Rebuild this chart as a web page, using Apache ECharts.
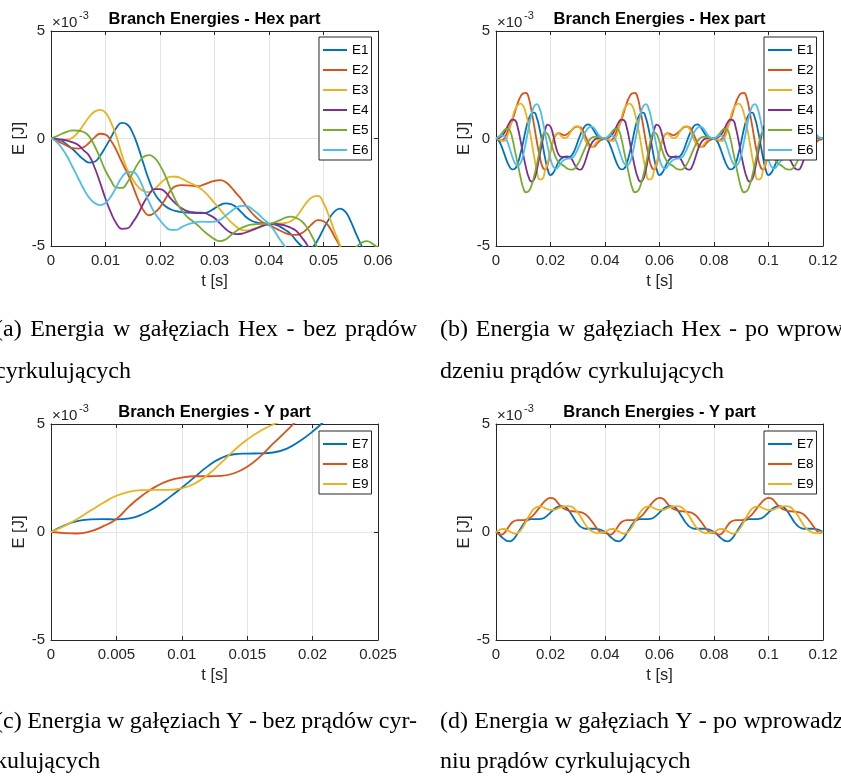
<!DOCTYPE html>
<html>
<head>
<meta charset="utf-8">
<script src="https://cdn.jsdelivr.net/npm/echarts@6/dist/echarts.min.js"></script>
<style>
  html, body { margin: 0; padding: 0; background: #fff; }
  #chart { width: 841px; height: 778px; }
</style>
</head>
<body>
<div id="chart"></div>
<script>
// energies in units of 1e-3 J, sampled every 1 ms
var hexNames = ['E1', 'E2', 'E3', 'E4', 'E5', 'E6'];
var yNames = ['E7', 'E8', 'E9'];
var colors = ['#0072BD', '#D95319', '#EDB120', '#7E2F8E', '#77AC30', '#4DBEEE'];

// (a) hex branches, no circulating currents, 0..60 ms
var E1a = [0,-0.03,-0.12,-0.3,-0.5,-0.75,-0.98,-1.12,-1.08,-0.8,-0.4,0.05,0.5,0.73,0.65,0.25,-0.4,-1.2,-1.95,-2.55,-2.9,-3.15,-3.3,-3.38,-3.42,-3.45,-3.46,-3.47,-3.47,-3.4,-3.25,-3.1,-3.02,-3.05,-3.2,-3.45,-3.7,-3.85,-3.92,-3.95,-3.97,-4.0,-4.1,-4.25,-4.45,-4.75,-5.0,-5.15,-5.05,-4.7,-4.2,-3.75,-3.4,-3.26,-3.4,-3.85,-4.45,-5.0,-5.6,-6.2,-6.8];
var E2a = [0,-0.1,-0.22,-0.35,-0.45,-0.47,-0.4,-0.2,0.05,0.22,0.18,-0.1,-0.55,-1.1,-1.6,-2.2,-2.85,-3.35,-3.57,-3.45,-3.2,-2.8,-2.4,-2.2,-2.17,-2.18,-2.2,-2.22,-2.15,-2.05,-1.97,-1.94,-2.02,-2.25,-2.55,-2.85,-3.2,-3.5,-3.75,-3.92,-4.03,-4.15,-4.28,-4.4,-4.47,-4.48,-4.4,-4.2,-3.95,-3.8,-3.85,-4.1,-4.55,-5.0,-5.5,-6.0,-6.5,-7.0,-7.5,-8.0,-8.5];
var E3a = [0,-0.02,-0.05,-0.05,0.05,0.3,0.65,1.0,1.25,1.33,1.2,0.75,0.1,-0.75,-1.45,-1.9,-2.25,-2.45,-2.5,-2.35,-2.1,-1.88,-1.77,-1.78,-1.87,-2.0,-2.12,-2.25,-2.45,-2.7,-3.0,-3.3,-3.6,-3.88,-4.1,-4.25,-4.28,-4.22,-4.12,-4.03,-3.98,-3.96,-3.95,-3.93,-3.85,-3.65,-3.3,-2.95,-2.72,-2.67,-3.0,-3.6,-4.3,-4.95,-5.6,-6.2,-6.8,-7.4,-8.0,-8.6,-9.2];
var E4a = [0,-0.02,-0.05,-0.1,-0.18,-0.3,-0.55,-0.8,-1.35,-2.05,-2.8,-3.45,-3.95,-4.2,-4.18,-3.9,-3.5,-3.0,-2.6,-2.35,-2.35,-2.5,-2.8,-3.05,-3.25,-3.38,-3.43,-3.45,-3.46,-3.55,-3.7,-3.95,-4.2,-4.38,-4.45,-4.43,-4.35,-4.25,-4.15,-4.05,-3.98,-3.97,-4.0,-4.05,-4.15,-4.3,-4.6,-4.95,-5.5,-6.0,-6.5,-7,-7.5,-8,-8.5,-9,-9.5,-10,-10.5,-11,-11.5];
var E5a = [0,0.1,0.22,0.32,0.38,0.36,0.3,0.1,-0.35,-0.9,-1.5,-1.95,-2.28,-2.3,-2.05,-1.6,-1.15,-0.85,-0.77,-0.9,-1.25,-1.75,-2.4,-2.95,-3.35,-3.65,-3.85,-4.05,-4.3,-4.5,-4.68,-4.77,-4.7,-4.5,-4.3,-4.15,-4.05,-4.0,-3.98,-3.97,-3.96,-3.9,-3.8,-3.68,-3.63,-3.7,-3.85,-4.15,-4.6,-5.15,-5.7,-6.1,-6.3,-6.1,-5.8,-5.4,-5.05,-4.85,-4.77,-4.9,-5.1];
var E6a = [0,-0.15,-0.45,-0.85,-1.35,-1.85,-2.35,-2.75,-3.0,-3.1,-3.0,-2.7,-2.25,-1.8,-1.57,-1.55,-1.8,-2.35,-2.95,-3.45,-3.8,-4.1,-4.25,-4.25,-4.12,-4.0,-3.93,-3.88,-3.87,-3.88,-3.87,-3.78,-3.6,-3.4,-3.22,-3.13,-3.15,-3.3,-3.5,-3.75,-3.98,-4.3,-4.7,-5.05,-5.5,-6,-6.5,-7,-7.5,-8,-8.5,-9,-9.5,-10,-10.5,-11,-11.5,-12,-12.5,-13,-13.5];

// (b) hex branches with circulating currents, 0..120 ms
var E1b = [0,-0.1,-0.35,-0.7,-1.05,-1.32,-1.44,-1.4,-1.15,-0.7,-0.15,0.45,0.9,1.15,1.2,0.95,0.45,-0.2,-0.9,-1.45,-1.7,-1.6,-1.35,-1.08,-0.93,-0.87,-0.86,-0.85,-0.75,-0.5,-0.15,0.18,0.45,0.62,0.66,0.55,0.35,0.15,0,-0.05,0,
  -0.1,-0.35,-0.7,-1.05,-1.32,-1.44,-1.4,-1.15,-0.7,-0.15,0.45,0.9,1.15,1.2,0.95,0.45,-0.2,-0.9,-1.45,-1.7,-1.6,-1.35,-1.08,-0.93,-0.87,-0.86,-0.85,-0.75,-0.5,-0.15,0.18,0.45,0.62,0.66,0.55,0.35,0.15,0,-0.05,0,
  -0.1,-0.35,-0.7,-1.05,-1.32,-1.44,-1.4,-1.15,-0.7,-0.15,0.45,0.9,1.15,1.2,0.95,0.45,-0.2,-0.9,-1.45,-1.7,-1.6,-1.35,-1.08,-0.93,-0.87,-0.86,-0.85,-0.75,-0.5,-0.15,0.18,0.45,0.62,0.66,0.55,0.35,0.15,0,-0.05,0];
var E2b = [0,-0.05,-0.1,0,0.25,0.55,0.85,1.25,1.65,1.95,2.1,2.12,1.9,1.3,0.6,-0.15,-0.8,-1.3,-1.45,-1.2,-0.6,-0.1,0.18,0.25,0.2,0.15,0.2,0.3,0.42,0.52,0.55,0.52,0.35,0.05,-0.22,-0.38,-0.38,-0.25,-0.12,-0.03,0,
  -0.05,-0.1,0,0.25,0.55,0.85,1.25,1.65,1.95,2.1,2.12,1.9,1.3,0.6,-0.15,-0.8,-1.3,-1.45,-1.2,-0.6,-0.1,0.18,0.25,0.2,0.15,0.2,0.3,0.42,0.52,0.55,0.52,0.35,0.05,-0.22,-0.38,-0.38,-0.25,-0.12,-0.03,0,
  -0.05,-0.1,0,0.25,0.55,0.85,1.25,1.65,1.95,2.1,2.12,1.9,1.3,0.6,-0.15,-0.8,-1.3,-1.45,-1.2,-0.6,-0.1,0.18,0.25,0.2,0.15,0.2,0.3,0.42,0.52,0.55,0.52,0.35,0.05,-0.22,-0.38,-0.38,-0.25,-0.12,-0.03,0];
var E3b = [0,-0.03,-0.1,-0.12,0.05,0.45,0.95,1.35,1.55,1.62,1.52,1.15,0.6,-0.1,-0.85,-1.5,-1.9,-1.88,-1.5,-1.1,-0.55,-0.1,0.18,0.22,0.1,0.02,0.05,0.22,0.42,0.55,0.57,0.45,0.15,-0.15,-0.35,-0.4,-0.32,-0.15,-0.02,0.02,0,
  -0.03,-0.1,-0.12,0.05,0.45,0.95,1.35,1.55,1.62,1.52,1.15,0.6,-0.1,-0.85,-1.5,-1.9,-1.88,-1.5,-1.1,-0.55,-0.1,0.18,0.22,0.1,0.02,0.05,0.22,0.42,0.55,0.57,0.45,0.15,-0.15,-0.35,-0.4,-0.32,-0.15,-0.02,0.02,0,
  -0.03,-0.1,-0.12,0.05,0.45,0.95,1.35,1.55,1.62,1.52,1.15,0.6,-0.1,-0.85,-1.5,-1.9,-1.88,-1.5,-1.1,-0.55,-0.1,0.18,0.22,0.1,0.02,0.05,0.22,0.42,0.55,0.57,0.45,0.15,-0.15,-0.35,-0.4,-0.32,-0.15,-0.02,0.02,0];
var E4b = [0,0.03,0.1,0.25,0.5,0.75,0.88,0.85,0.5,-0.1,-0.75,-1.35,-1.8,-2.0,-1.9,-1.45,-0.8,-0.15,0.4,0.65,0.55,0.15,-0.4,-0.75,-0.85,-0.85,-0.83,-0.85,-1.0,-1.25,-1.42,-1.45,-1.3,-0.95,-0.55,-0.25,-0.08,0,0.03,0.02,0,
  0.03,0.1,0.25,0.5,0.75,0.88,0.85,0.5,-0.1,-0.75,-1.35,-1.8,-2.0,-1.9,-1.45,-0.8,-0.15,0.4,0.65,0.55,0.15,-0.4,-0.75,-0.85,-0.85,-0.83,-0.85,-1.0,-1.25,-1.42,-1.45,-1.3,-0.95,-0.55,-0.25,-0.08,0,0.03,0.02,0,
  0.03,0.1,0.25,0.5,0.75,0.88,0.85,0.5,-0.1,-0.75,-1.35,-1.8,-2.0,-1.9,-1.45,-0.8,-0.15,0.4,0.65,0.55,0.15,-0.4,-0.75,-0.85,-0.85,-0.83,-0.85,-1.0,-1.25,-1.42,-1.45,-1.3,-0.95,-0.55,-0.25,-0.08,0,0.03,0.02,0];
var E5b = [0,0.08,0.22,0.38,0.46,0.4,0,-0.6,-1.2,-1.8,-2.3,-2.5,-2.45,-2.2,-1.75,-1.2,-0.55,0.05,0.3,0.2,-0.15,-0.55,-0.9,-1.1,-1.2,-1.28,-1.38,-1.44,-1.45,-1.38,-1.2,-0.95,-0.65,-0.35,-0.12,0.02,0.08,0.08,0.05,0.02,0,
  0.08,0.22,0.38,0.46,0.4,0,-0.6,-1.2,-1.8,-2.3,-2.5,-2.45,-2.2,-1.75,-1.2,-0.55,0.05,0.3,0.2,-0.15,-0.55,-0.9,-1.1,-1.2,-1.28,-1.38,-1.44,-1.45,-1.38,-1.2,-0.95,-0.65,-0.35,-0.12,0.02,0.08,0.08,0.05,0.02,0,
  0.08,0.22,0.38,0.46,0.4,0,-0.6,-1.2,-1.8,-2.3,-2.5,-2.45,-2.2,-1.75,-1.2,-0.55,0.05,0.3,0.2,-0.15,-0.55,-0.9,-1.1,-1.2,-1.28,-1.38,-1.44,-1.45,-1.38,-1.2,-0.95,-0.65,-0.35,-0.12,0.02,0.08,0.08,0.05,0.02,0];
var E6b = [0,0.08,0.15,0.12,-0.1,-0.45,-0.85,-1.15,-1.27,-1.15,-0.75,-0.15,0.5,1.1,1.5,1.6,1.4,0.9,0.25,-0.4,-0.95,-1.3,-1.4,-1.3,-1.12,-1.0,-0.95,-0.93,-0.9,-0.75,-0.5,-0.2,0.1,0.35,0.5,0.55,0.48,0.3,0.12,0.03,0,
  0.08,0.15,0.12,-0.1,-0.45,-0.85,-1.15,-1.27,-1.15,-0.75,-0.15,0.5,1.1,1.5,1.6,1.4,0.9,0.25,-0.4,-0.95,-1.3,-1.4,-1.3,-1.12,-1.0,-0.95,-0.93,-0.9,-0.75,-0.5,-0.2,0.1,0.35,0.5,0.55,0.48,0.3,0.12,0.03,0,
  0.08,0.15,0.12,-0.1,-0.45,-0.85,-1.15,-1.27,-1.15,-0.75,-0.15,0.5,1.1,1.5,1.6,1.4,0.9,0.25,-0.4,-0.95,-1.3,-1.4,-1.3,-1.12,-1.0,-0.95,-0.93,-0.9,-0.75,-0.5,-0.2,0.1,0.35,0.5,0.55,0.48,0.3,0.12,0.03,0];

// (c) Y branches, no circulating currents, 0..25 ms
var E7c = [0,0.3,0.5,0.58,0.6,0.58,0.63,0.82,1.15,1.58,2.05,2.55,3.05,3.42,3.6,3.63,3.64,3.68,3.85,4.2,4.65,5.2,5.8,6.4,7.0,7.5];
var E8c = [0,-0.05,-0.07,0.03,0.27,0.6,1.2,1.7,2.1,2.38,2.52,2.58,2.58,2.6,2.72,3.02,3.5,4.1,4.68,5.3,5.9,6.4,6.8,7.2,7.6,8.0];
var E9c = [0,0.27,0.6,0.98,1.35,1.68,1.87,1.94,1.95,1.95,2.02,2.25,2.65,3.2,3.78,4.28,4.68,4.98,5.2,5.4,5.6,5.8,6.0,6.2,6.4,6.6];

// (d) Y branches with circulating currents, 0..120 ms
var E7d = [0,-0.1,-0.22,-0.33,-0.41,-0.43,-0.38,-0.25,-0.05,0.15,0.35,0.5,0.57,0.6,0.6,0.6,0.6,0.62,0.68,0.78,0.9,1.02,1.12,1.18,1.2,1.18,1.1,0.95,0.75,0.55,0.38,0.25,0.18,0.15,0.15,0.15,0.15,0.14,0.12,0.07,0,
  -0.1,-0.22,-0.33,-0.41,-0.43,-0.38,-0.25,-0.05,0.15,0.35,0.5,0.57,0.6,0.6,0.6,0.6,0.62,0.68,0.78,0.9,1.02,1.12,1.18,1.2,1.18,1.1,0.95,0.75,0.55,0.38,0.25,0.18,0.15,0.15,0.15,0.15,0.14,0.12,0.07,0,
  -0.1,-0.22,-0.33,-0.41,-0.43,-0.38,-0.25,-0.05,0.15,0.35,0.5,0.57,0.6,0.6,0.6,0.6,0.62,0.68,0.78,0.9,1.02,1.12,1.18,1.2,1.18,1.1,0.95,0.75,0.55,0.38,0.25,0.18,0.15,0.15,0.15,0.15,0.14,0.12,0.07,0];
var E8d = [0,-0.08,-0.12,-0.05,0.12,0.3,0.45,0.52,0.55,0.55,0.55,0.57,0.62,0.7,0.82,0.98,1.14,1.3,1.44,1.54,1.58,1.56,1.45,1.3,1.17,1.08,1.02,0.98,0.96,0.95,0.94,0.92,0.88,0.8,0.68,0.52,0.35,0.17,0.03,-0.04,-0.04,
  -0.08,-0.12,-0.05,0.12,0.3,0.45,0.52,0.55,0.55,0.55,0.57,0.62,0.7,0.82,0.98,1.14,1.3,1.44,1.54,1.58,1.56,1.45,1.3,1.17,1.08,1.02,0.98,0.96,0.95,0.94,0.92,0.88,0.8,0.68,0.52,0.35,0.17,0.03,-0.04,-0.04,
  -0.08,-0.12,-0.05,0.12,0.3,0.45,0.52,0.55,0.55,0.55,0.57,0.62,0.7,0.82,0.98,1.14,1.3,1.44,1.54,1.58,1.56,1.45,1.3,1.17,1.08,1.02,0.98,0.96,0.95,0.94,0.92,0.88,0.8,0.68,0.52,0.35,0.17,0.03,-0.04,0];
var E9d = [0,0.07,0.13,0.14,0.1,0.03,-0.04,-0.08,-0.05,0.07,0.25,0.48,0.72,0.93,1.08,1.16,1.19,1.17,1.1,1.05,1.02,1.02,1.05,1.1,1.15,1.18,1.2,1.19,1.15,1.05,0.9,0.72,0.5,0.3,0.15,0.05,-0.02,-0.05,-0.04,-0.02,0,
  0.07,0.13,0.14,0.1,0.03,-0.04,-0.08,-0.05,0.07,0.25,0.48,0.72,0.93,1.08,1.16,1.19,1.17,1.1,1.05,1.02,1.02,1.05,1.1,1.15,1.18,1.2,1.19,1.15,1.05,0.9,0.72,0.5,0.3,0.15,0.05,-0.02,-0.05,-0.04,-0.02,0,
  0.07,0.13,0.14,0.1,0.03,-0.04,-0.08,-0.05,0.07,0.25,0.48,0.72,0.93,1.08,1.16,1.19,1.17,1.1,1.05,1.02,1.02,1.05,1.1,1.15,1.18,1.2,1.19,1.15,1.05,0.9,0.72,0.5,0.3,0.15,0.05,-0.02,-0.05,-0.04,-0.02,0];

var yTicks = [-5, 0, 5];
var titles = ['Branch Energies - Hex part', 'Branch Energies - Hex part', 'Branch Energies - Y part', 'Branch Energies - Y part'];
var captions = [
  ['(a) Energia w gałęziach Hex - bez prądów', 'cyrkulujących'],
  ['(b) Energia w gałęziach Hex - po wprowa-', 'dzeniu prądów cyrkulujących'],
  ['(c) Energia w gałęziach Y - bez prądów cyr-', 'kulujących'],
  ['(d) Energia w gałęziach Y - po wprowadze-', 'niu prądów cyrkulujących']
];

var SANS = '"Liberation Sans", Arial, Helvetica, sans-serif';
var SERIF = '"Liberation Serif", "Times New Roman", serif';
var AX = '#262626';

var panels = [
  { left: 51,  top: 31,  h: 215, xMax: 0.06,  xStep: 0.01,  names: hexNames, vals: [E1a, E2a, E3a, E4a, E5a, E6a], leg: [319, 37] },
  { left: 496, top: 31,  h: 215, xMax: 0.12,  xStep: 0.02,  names: hexNames, vals: [E1b, E2b, E3b, E4b, E5b, E6b], leg: [764, 37] },
  { left: 51,  top: 424, h: 216, xMax: 0.025, xStep: 0.005, names: yNames,   vals: [E7c, E8c, E9c], leg: [319, 431] },
  { left: 496, top: 424, h: 216, xMax: 0.12,  xStep: 0.02,  names: yNames,   vals: [E7d, E8d, E9d], leg: [764, 431] }
];
var W = 327;

function xFmt(v) { return String(+v.toFixed(4)); }

var grids = [], xAxes = [], yAxes = [], series = [], legends = [], graphics = [];

panels.forEach(function (p, i) {
  grids.push({ left: p.left, top: p.top, width: W, height: p.h, containLabel: false });

  xAxes.push({
    gridIndex: i, type: 'value', min: 0, max: p.xMax, interval: p.xStep, position: 'bottom',
    axisLine: { show: true, onZero: false, lineStyle: { color: AX, width: 1 } },
    axisTick: { show: true, inside: true, length: 4, lineStyle: { color: AX } },
    axisLabel: { color: AX, fontSize: 15, fontFamily: SANS, margin: 7, formatter: xFmt },
    splitLine: { show: true, lineStyle: { color: '#e4e4e4', width: 1 } },
    name: 't [s]', nameLocation: 'middle', nameGap: 27,
    nameTextStyle: { color: AX, fontSize: 16.5, fontFamily: SANS }
  });
  yAxes.push({
    gridIndex: i, type: 'value', min: yTicks[0], max: yTicks[2], interval: 5, position: 'left',
    axisLine: { show: true, onZero: false, lineStyle: { color: AX, width: 1 } },
    axisTick: { show: true, inside: true, length: 4, lineStyle: { color: AX } },
    axisLabel: { color: AX, fontSize: 15, fontFamily: SANS, margin: 6 },
    splitLine: { show: true, lineStyle: { color: '#e4e4e4', width: 1 } },
    name: 'E [J]', nameLocation: 'middle', nameGap: 18,
    nameTextStyle: { color: AX, fontSize: 16.5, fontFamily: SANS }
  });

  p.names.forEach(function (nm, k) {
    series.push({
      type: 'line', name: nm, xAxisIndex: i, yAxisIndex: i,
      data: p.vals[k].map(function (v, ms) { return [ms / 1000, v]; }),
      showSymbol: false, symbol: 'none', smooth: true, clip: true,
      lineStyle: { width: 1.8, color: colors[k] }, itemStyle: { color: colors[k] },
      emphasis: { disabled: true }
    });
  });

  legends.push({
    orient: 'vertical', left: p.leg[0], top: p.leg[1], data: p.names,
    icon: 'rect', itemWidth: 24, itemHeight: 2, itemGap: 0,
    textStyle: { color: '#000', fontSize: 13.5, fontFamily: SANS, lineHeight: 20 },
    backgroundColor: '#fff', borderColor: AX, borderWidth: 1, borderRadius: 0,
    padding: [3, 3, 0, 4], selectedMode: false
  });

  var cx = p.left + W / 2;
  graphics.push({ type: 'text', x: cx, y: p.top - 12, z: 10,
    style: { text: titles[i], font: 'bold 16.5px ' + SANS, fill: '#000',
      textAlign: 'center', align: 'center', textVerticalAlign: 'middle', verticalAlign: 'middle' } });
  graphics.push({ type: 'text', x: p.left + 1, y: p.top - 8, z: 10,
    style: { text: '\u00d710', font: '15px ' + SANS, fill: AX, textVerticalAlign: 'middle', verticalAlign: 'middle' } });
  graphics.push({ type: 'text', x: p.left + 28, y: p.top - 15, z: 10,
    style: { text: '-3', font: '11px ' + SANS, fill: AX, textVerticalAlign: 'middle', verticalAlign: 'middle' } });
});

// box ticks on the top and right edges
panels.forEach(function (p, i) {
  xAxes.push({
    gridIndex: i, type: 'value', min: 0, max: p.xMax, interval: p.xStep, position: 'top',
    axisLine: { show: true, onZero: false, lineStyle: { color: AX, width: 1 } },
    axisTick: { show: true, inside: true, length: 4, lineStyle: { color: AX } },
    axisLabel: { show: false }, splitLine: { show: false }
  });
  yAxes.push({
    gridIndex: i, type: 'value', min: -5, max: 5, interval: 5, position: 'right',
    axisLine: { show: true, onZero: false, lineStyle: { color: AX, width: 1 } },
    axisTick: { show: true, inside: true, length: 4, lineStyle: { color: AX } },
    axisLabel: { show: false }, splitLine: { show: false }
  });
});

// captions: first line justified across the column, second line flush left
var ctx = document.createElement('canvas').getContext('2d');
var CAP_FONT = '24px ' + SERIF;
function captionLine(text, x0, x1, y, justify) {
  ctx.font = CAP_FONT;
  var words = text.split(' ');
  var widths = words.map(function (w) { return ctx.measureText(w).width; });
  var total = widths.reduce(function (a, b) { return a + b; }, 0);
  var gap = justify ? (x1 - x0 - total) / (words.length - 1) : ctx.measureText(' ').width;
  var x = x0;
  words.forEach(function (w, k) {
    graphics.push({ type: 'text', x: x, y: y, z: 10,
      style: { text: w, font: CAP_FONT, fill: '#000', textVerticalAlign: 'middle', verticalAlign: 'middle' } });
    x += widths[k] + gap;
  });
}
var capCols = [[-5, 417], [440, 862], [-5, 417], [440, 862]];
var capRows = [[330, 372], [330, 372], [722, 762], [722, 762]];
captions.forEach(function (c, i) {
  captionLine(c[0], capCols[i][0], capCols[i][1], capRows[i][0], true);
  captionLine(c[1], capCols[i][0], capCols[i][1], capRows[i][1], false);
});

var chart = echarts.init(document.getElementById('chart'), null, { renderer: 'canvas' });
chart.setOption({
  animation: false,
  backgroundColor: '#fff',
  grid: grids,
  xAxis: xAxes,
  yAxis: yAxes,
  legend: legends,
  series: series,
  graphic: graphics
});
</script>
</body>
</html>
